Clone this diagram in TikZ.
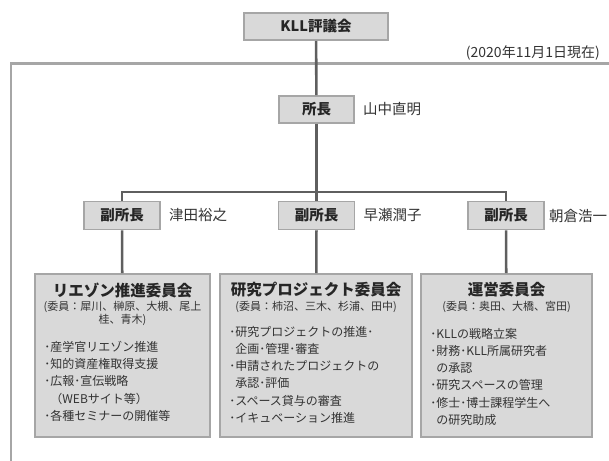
\documentclass[tikz,border=0pt]{standalone}
\usepackage{fontspec}
\setmainfont{Noto Sans CJK JP}
\usetikzlibrary{positioning}
\definecolor{boxfill}{HTML}{D9D9D9}
\definecolor{boxline}{HTML}{A6A6A6}
\definecolor{linkline}{HTML}{5F5F5F}
\definecolor{txt}{HTML}{333333}

\begin{document}
\begin{tikzpicture}[x=1pt,y=-1pt,
  post/.style={draw=boxline, line width=1.6pt, fill=boxfill, inner sep=0pt,
    text=black!85, font=\bfseries\fontsize{14.5}{16}\selectfont},
  cmte/.style={draw=boxline, line width=1.6pt, fill=boxfill, inner sep=0pt,
    anchor=north, minimum height=163pt},
  link/.style={draw=linkline, line width=2.6pt},
  person/.style={inner sep=0pt, anchor=west, text=txt, font=\fontsize{14.5}{16}\selectfont},
  ctitle/.style={inner sep=0pt, text=black!85, font=\bfseries\fontsize{15.5}{18}\selectfont},
  members/.style={inner sep=0pt, align=center, text=txt, font=\fontsize{11}{13}\selectfont},
  duties/.style={inner sep=0pt, anchor=north west, align=left, text=txt,
    font=\fontsize{12}{17.2}\selectfont}]

\useasboundingbox (0,0) rectangle (609,460);

% outer frame
\draw[boxline, line width=2.6pt] (611,63.5) -- (11,63.5) -- (11,462);

% council and director
\node[post, minimum width=144pt, minimum height=27pt] (council) at (316,26.5) {KLL評議会};
\node[anchor=east, inner sep=0pt, text=txt, font=\fontsize{14}{16}\selectfont] (asof) at (600,53) {(2020年11月1日現在)};
\node[post, minimum width=75pt, minimum height=27pt] (director) at (316.5,109.5) {所長};
\node[person, right=8pt of director] (dirname) {山中直明};

% vice directors
\node[post, minimum width=76pt, minimum height=28pt] (vpA) at (122,215.5) {副所長};
\node[post, minimum width=76pt, minimum height=28pt] (vpB) at (316.5,215.5) {副所長};
\node[post, minimum width=76pt, minimum height=28pt] (vpC) at (506,215.5) {副所長};
\node[person, right=8pt of vpA] (nameA) {津田裕之};
\node[person, right=8pt of vpB] (nameB) {早瀬潤子};
\node[person, right=4pt of vpC] (nameC) {朝倉浩一};
\coordinate (bar) at (316.5,192);

% committees
\node[cmte, minimum width=175pt] (liaison) at (122.5,273) {};
\node[cmte, minimum width=192pt] (project) at (316,273) {};
\node[cmte, minimum width=171pt] (manage) at (506.5,273) {};

\node[ctitle] (liaisonT) at ([yshift=-17pt]liaison.north) {リエゾン推進委員会};
\node[members] (liaisonM) at ([yshift=-40.5pt]liaison.north) {(委員：犀川、榊原、大槻、尾上\\桂、青木)};
\node[duties] (liaisonD) at ([xshift=10pt,yshift=-68pt]liaison.north west)
  {･産学官リエゾン推進\\･知的資産権取得支援\\･広報･宣伝戦略\\\phantom{･}（WEBサイト等）\\･各種セミナーの開催等};

\node[ctitle] (projectT) at ([yshift=-17pt]project.north) {研究プロジェクト委員会};
\node[members] (projectM) at ([yshift=-34pt]project.north) {(委員：柿沼、三木、杉浦、田中)};
\node[duties] (projectD) at ([xshift=10pt,yshift=-53pt]project.north west)
  {･研究プロジェクトの推進･\\\phantom{･}企画･管理･審査\\･申請されたプロジェクトの\\\phantom{･}承認･評価\\･スペース貸与の審査\\･イキュベーション推進};

\node[ctitle] (manageT) at ([yshift=-17pt]manage.north) {運営委員会};
\node[members] (manageM) at ([yshift=-34pt]manage.north) {(委員：奥田、大橋、宮田)};
\node[duties] (manageD) at ([xshift=10pt,yshift=-55pt]manage.north west)
  {･KLLの戦略立案\\･財務･KLL所属研究者\\\phantom{･}の承認\\･研究スペースの管理\\･修士･博士課程学生へ\\\phantom{･}の研究助成};

% connectors
\draw[link] (council) -- (director);
\draw[link] (director) -- (bar);
\draw[link] (vpA.north) |- (bar) -| (vpC.north);
\draw[link] (bar) -- (vpB.north);
\draw[link] (vpA) -- (liaison);
\draw[link] (vpB) -- (project);
\draw[link] (vpC) -- (manage);

\end{tikzpicture}
\end{document}
